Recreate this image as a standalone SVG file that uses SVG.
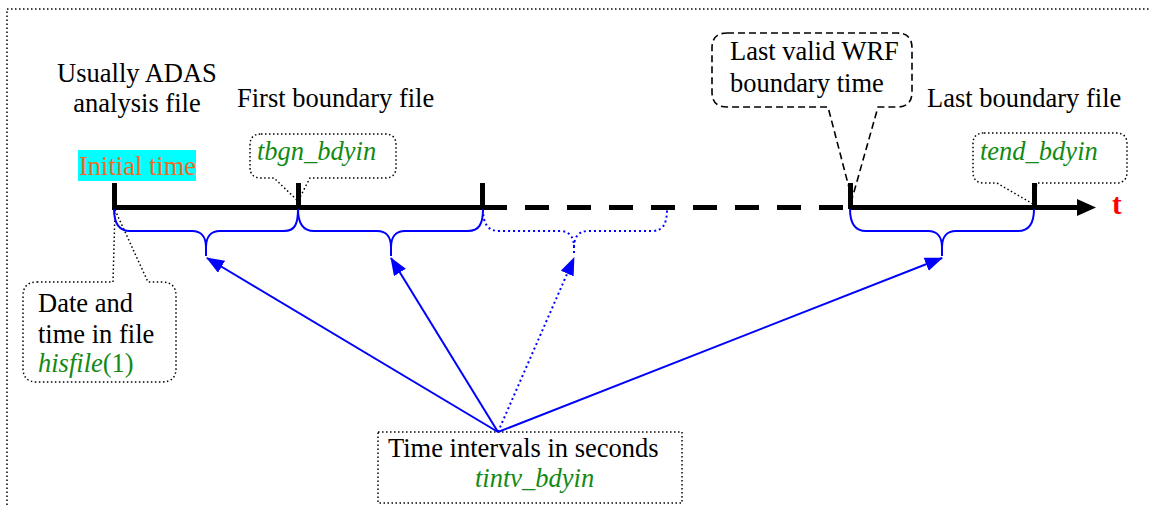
<svg xmlns="http://www.w3.org/2000/svg" width="1151" height="506" viewBox="0 0 1151 506">
<style>
text{font-family:"Liberation Serif","Times New Roman",serif;font-size:26.5px;fill:#000}
.g{fill:#138a13;font-style:italic}
.gr{fill:#138a13;font-style:normal}
.dot{fill:none;stroke:#000;stroke-width:1.5;stroke-dasharray:1.5 2.5}
.dash{fill:none;stroke:#000;stroke-width:1.6;stroke-dasharray:7 4}
.brace{fill:none;stroke:#0000FF;stroke-width:2}
.arr{stroke:#0000FF;stroke-width:2;fill:none}
.axis{stroke:#000;stroke-width:5;fill:none}
</style>
<defs>
<marker id="ah" markerUnits="userSpaceOnUse" markerWidth="20" markerHeight="16" refX="17" refY="7" orient="auto">
<path d="M0,0 L18,7 L0,14 Z" fill="#0000FF"/>
</marker>
</defs>
<rect x="7" y="9" width="1160" height="520" class="dot"/>
<g id="timeline">
<line x1="112" y1="207.5" x2="483" y2="207.5" class="axis"/>
<line x1="483" y1="207.5" x2="850" y2="207.5" class="axis" stroke-dasharray="24 18"/>
<line x1="850" y1="207.5" x2="1080" y2="207.5" class="axis"/>
<path d="M1077,199 L1096,207.5 L1077,216 Z" fill="#000"/>
<rect x="112" y="183" width="5" height="26" fill="#000"/>
<rect x="296" y="183" width="5" height="26" fill="#000"/>
<rect x="480" y="183" width="5" height="26" fill="#000"/>
<rect x="848" y="183" width="5" height="26" fill="#000"/>
<rect x="1032" y="183" width="5" height="26" fill="#000"/>
<text x="1112" y="214" style="font-weight:bold;font-size:29px;fill:#FF0000">t</text>
</g>
<g id="initial">
<text x="137" y="82" text-anchor="middle">Usually ADAS</text>
<text x="137" y="112" text-anchor="middle">analysis file</text>
<rect x="78" y="150" width="118" height="31" fill="#00FFFF"/>
<text x="79" y="175" style="fill:#F26B1D">Initial time</text>
</g>
<g id="first">
<text x="237" y="107">First boundary file</text>
<path class="dot" d="M261,134 H385 Q396,134 396,145 V167 Q396,178 385,178 H310 L298,201 L274,178 H261 Q250,178 250,167 V145 Q250,134 261,134 Z"/>
<text x="257" y="160" class="g">tbgn_bdyin</text>
</g>
<g id="lastvalid">
<path class="dash" d="M727,33 H897 Q912,33 912,48 V92 Q912,107 897,107 H878 L852,199 L828,107 H727 Q712,107 712,92 V48 Q712,33 727,33 Z"/>
<text x="730" y="60">Last valid WRF</text>
<text x="730" y="92">boundary time</text>
</g>
<g id="last">
<text x="927" y="107">Last boundary file</text>
<path class="dot" d="M984,133 H1116 Q1127,133 1127,144 V172 Q1127,183 1116,183 H1037 L1033,204 L997,183 H984 Q973,183 973,172 V144 Q973,133 984,133 Z"/>
<text x="980" y="160" class="g">tend_bdyin</text>
</g>
<g id="datetime">
<path class="dot" d="M37,282 H113 L115,210 L148,282 H162 Q176,282 176,296 V368 Q176,382 162,382 H37 Q23,382 23,368 V296 Q23,282 37,282 Z"/>
<text x="38" y="312">Date and</text>
<text x="38" y="343">time in file</text>
<text x="38" y="372"><tspan class="g">hisfile</tspan><tspan class="gr">(1)</tspan></text>
</g>
<g id="intervals">
<rect x="378" y="432" width="304" height="71" class="dot"/>
<text x="388" y="457">Time intervals in seconds</text>
<text x="475" y="487" class="g">tintv_bdyin</text>
</g>
<g id="braces">
<path class="brace" d="M114,209 C114,224 119,231 130,231 L192,231 C202,231 206,238 206,247 L206,256 M206,247 C206,238 210,231 220,231 L284,231 C295,231 298,224 298,209"/>
<path class="brace" d="M298,209 C298,224 303,231 314,231 L377,231 C387,231 391,238 391,247 L391,256 M391,247 C391,238 395,231 405,231 L468,231 C479,231 483,224 483,209"/>
<path class="brace" stroke-dasharray="2 3" d="M483,209 C483,224 488,231 499,231 L560,231 C570,231 574,238 574,247 L574,254 M574,247 C574,238 578,231 588,231 L652,231 C663,231 667,224 667,209"/>
<path class="brace" d="M850,209 C850,224 855,231 866,231 L928,231 C938,231 942,238 942,247 L942,256 M942,247 C942,238 946,231 956,231 L1018,231 C1029,231 1034,224 1034,209"/>
</g>
<g id="connectors">
<line x1="498" y1="432" x2="207" y2="258" class="arr" marker-end="url(#ah)"/>
<line x1="498" y1="432" x2="391" y2="258" class="arr" marker-end="url(#ah)"/>
<line x1="498" y1="432" x2="574" y2="258" class="arr" stroke-dasharray="2 3" marker-end="url(#ah)"/>
<line x1="498" y1="432" x2="942" y2="258" class="arr" marker-end="url(#ah)"/>
</g>
</svg>
